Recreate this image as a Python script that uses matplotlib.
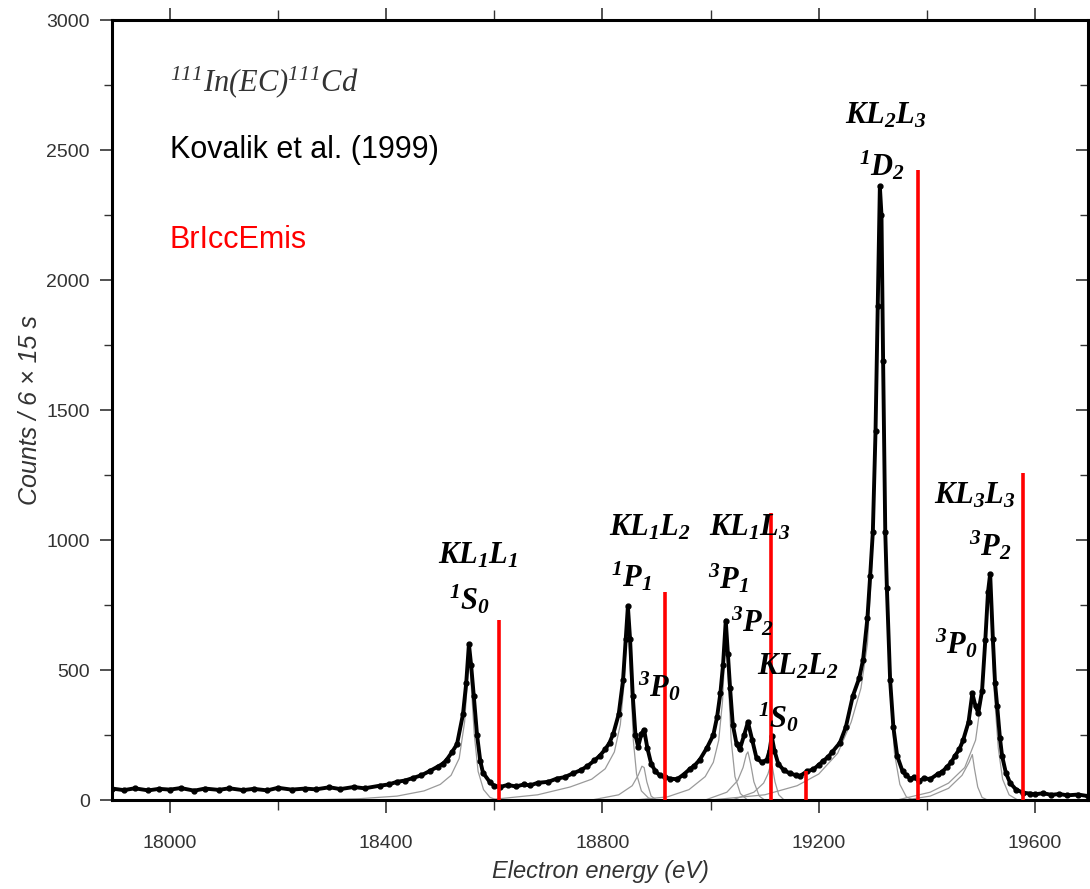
import matplotlib
matplotlib.use('Agg')
import matplotlib.pyplot as plt
from matplotlib.ticker import MultipleLocator

plt.rcParams['font.family'] = ['Liberation Sans', 'DejaVu Sans']
plt.rcParams['mathtext.fontset'] = 'custom'
plt.rcParams['mathtext.rm'] = 'Liberation Serif:italic'
plt.rcParams['mathtext.it'] = 'Liberation Serif:italic'
plt.rcParams['mathtext.bf'] = 'Liberation Serif:bold:italic'

spec_e = [17893, 17915, 17935, 17960, 17980, 18000, 18020, 18045, 18065, 18090,
          18110, 18135, 18155, 18180, 18200, 18225, 18250, 18270, 18295, 18315,
          18340, 18360, 18388, 18405, 18420, 18435, 18450, 18465, 18481, 18495,
          18505, 18512, 18522, 18531, 18542, 18548, 18553,
          18557, 18562, 18568, 18574, 18579, 18592, 18600, 18610, 18625, 18640, 18655, 18666, 18680, 18700,
          18715, 18730, 18745, 18760, 18772, 18785, 18795, 18805, 18813, 18820, 18830, 18838, 18843, 18847, 18851,
          18856, 18861, 18866, 18872, 18877, 18883, 18890, 18898, 18906, 18915, 18925, 18938, 18950, 18962,
          18970, 18980, 18993, 19005, 19012, 19018, 19023, 19028, 19032, 19036, 19041,
          19048, 19054, 19062, 19069, 19077, 19085, 19095, 19104, 19109, 19113,
          19118, 19125, 19135, 19147, 19157, 19165, 19178, 19190, 19200, 19208, 19217, 19225, 19239,
          19250, 19263, 19275, 19282, 19290, 19295, 19300, 19305, 19309, 19313,
          19316, 19319, 19323, 19326, 19332, 19338, 19345, 19355, 19362, 19369, 19377, 19385, 19395,
          19406, 19420, 19428, 19437, 19445, 19452, 19460, 19467, 19477, 19484, 19490, 19495, 19502,
          19508, 19513, 19517, 19522, 19526, 19530, 19535, 19539, 19546, 19554,
          19565, 19578, 19590, 19600, 19615, 19630, 19645, 19660, 19680, 19698]
spec_c = [44, 38, 45, 37, 43, 40, 46, 36, 44, 39,
          45, 38, 43, 37, 47, 40, 44, 41, 49, 42,
          50, 45, 55, 60, 70, 75, 85, 95, 112, 128,
          140, 155, 185, 215, 330, 450, 600,
          520, 400, 250, 150, 105, 68, 55, 50, 58, 52, 60, 56, 66, 70,
          82, 88, 102, 115, 130, 152, 170, 195, 220, 255, 330, 460, 620, 745, 620,
          400, 250, 205, 255, 270, 200, 140, 110, 95, 88, 82, 80, 98, 120,
          132, 155, 200, 250, 320, 410, 520, 690, 560, 430, 290,
          215, 195, 250, 300, 230, 160, 145, 155, 190, 245,
          190, 140, 115, 102, 96, 92, 110, 118, 135, 150, 165, 185, 220,
          280, 400, 470, 540, 700, 860, 1030, 1420, 1900, 2360,
          2250, 1690, 1030, 815, 460, 280, 170, 110, 95, 82, 88, 72, 84,
          80, 100, 108, 127, 145, 170, 195, 230, 300, 410, 360, 335, 420,
          615, 800, 870, 620, 450, 360, 240, 170, 105, 65,
          40, 28, 25, 22, 26, 20, 23, 18, 21, 15]

# fitted components (grey)
kl1l1_e = [18250, 18350, 18420, 18470, 18500, 18520, 18535, 18545, 18550, 18553, 18557, 18563, 18570, 18580, 18592, 18605]
kl1l1_c = [0, 5, 15, 35, 60, 95, 160, 300, 450, 585, 450, 250, 110, 40, 10, 0]
kl1l2_1p1_e = [18600, 18680, 18740, 18780, 18805, 18822, 18833, 18840, 18845, 18848, 18852, 18857, 18863, 18872, 18885, 18900]
kl1l2_1p1_c = [3, 20, 50, 80, 120, 185, 290, 450, 650, 690, 480, 230, 100, 35, 8, 0]
kl1l2_3p0_e = [18780, 18830, 18855, 18866, 18873, 18877, 18882, 18890, 18900]
kl1l2_3p0_c = [0, 20, 55, 95, 130, 125, 70, 15, 0]
kl1l3_3p1_e = [18860, 18920, 18960, 18990, 19005, 19015, 19022, 19026, 19029, 19033, 19038, 19045, 19055, 19068]
kl1l3_3p1_c = [0, 12, 40, 90, 145, 230, 380, 560, 660, 450, 230, 90, 25, 0]
kl1l3_3p2_e = [18990, 19030, 19050, 19060, 19066, 19069, 19074, 19080, 19090, 19100]
kl1l3_3p2_c = [0, 30, 75, 125, 175, 185, 140, 70, 15, 0]
kl2l2_e = [19040, 19080, 19098, 19106, 19111, 19114, 19119, 19126, 19136]
kl2l2_c = [0, 30, 65, 100, 135, 130, 70, 20, 0]
kl2l3_e = [19000, 19100, 19160, 19200, 19235, 19260, 19278, 19290, 19298, 19304, 19309, 19313, 19317, 19321, 19326, 19332, 19340, 19350, 19362, 19375]
kl2l3_c = [0, 20, 55, 100, 180, 300, 430, 600, 900, 1400, 1950, 2330, 2050, 1400, 820, 420, 180, 60, 12, 0]
kl3l3_3p0_e = [19360, 19406, 19440, 19465, 19478, 19484, 19488, 19494, 19502, 19512]
kl3l3_3p0_c = [0, 15, 45, 95, 145, 175, 120, 50, 10, 0]
kl3l3_3p2_e = [19345, 19406, 19440, 19470, 19490, 19500, 19508, 19513, 19516, 19520, 19525, 19532, 19540, 19552, 19568]
kl3l3_3p2_c = [0, 30, 65, 125, 230, 380, 600, 800, 840, 650, 400, 200, 80, 20, 0]

# BrIccEmis line positions and intensities
emis_e = [18609, 18916, 19112, 19176, 19384, 19578]
emis_c = [692, 800, 1104, 112, 2423, 1258]

# peak labels: text, x, y
label_txt = [r'$\mathbf{KL_1L_1}$', r'$\mathbf{{}^1S_0}$',
             r'$\mathbf{KL_1L_2}$', r'$\mathbf{{}^1P_1}$', r'$\mathbf{{}^3P_0}$',
             r'$\mathbf{KL_1L_3}$', r'$\mathbf{{}^3P_1}$', r'$\mathbf{{}^3P_2}$',
             r'$\mathbf{KL_2L_2}$', r'$\mathbf{{}^1S_0}$',
             r'$\mathbf{KL_2L_3}$', r'$\mathbf{{}^1D_2}$',
             r'$\mathbf{KL_3L_3}$', r'$\mathbf{{}^3P_2}$', r'$\mathbf{{}^3P_0}$']
label_x = [18570, 18555, 18888, 18853, 18906, 19073, 19034, 19077, 19162, 19125, 19324, 19317, 19489, 19517, 19454]
label_y = [942, 769, 1050, 858, 435, 1050, 852, 685, 512, 315, 2634, 2440, 1173, 980, 600]

fig = plt.figure(figsize=(10.9, 8.89), dpi=100)
ax = fig.add_axes([0.1028, 0.1001, 0.8954, 0.8774])

components = [(kl1l1_e, kl1l1_c), (kl1l2_1p1_e, kl1l2_1p1_c), (kl1l2_3p0_e, kl1l2_3p0_c),
              (kl1l3_3p1_e, kl1l3_3p1_c), (kl1l3_3p2_e, kl1l3_3p2_c), (kl2l2_e, kl2l2_c),
              (kl2l3_e, kl2l3_c), (kl3l3_3p0_e, kl3l3_3p0_c), (kl3l3_3p2_e, kl3l3_3p2_c)]
for e, c in components:
    ax.plot(e, c, color='#9a9a9a', lw=0.9, zorder=2)

ax.plot(spec_e, spec_c, color='black', lw=2.8, marker='o', ms=3.5, zorder=3)
ax.vlines(emis_e, 0, emis_c, color='#ff0000', lw=2.6, zorder=4)

for t, x, y in zip(label_txt, label_x, label_y):
    ax.text(x, y, t, fontsize=22, ha='center', va='center', color='black', zorder=5)

ax.text(18000, 2762, r'$^{111}$In(EC)$^{111}$Cd', fontsize=22, family='Liberation Serif',
        style='italic', color='#333333', va='center', ha='left')
ax.text(18000, 2500, 'Kovalik et al. (1999)', fontsize=22, color='black', va='center', ha='left')
ax.text(18000, 2154, 'BrIccEmis', fontsize=22, color='#ff0000', va='center', ha='left')

ax.set_xlim(17893, 19698)
ax.set_ylim(0, 3000)
ax.xaxis.set_major_locator(MultipleLocator(400))
ax.xaxis.set_minor_locator(MultipleLocator(200))
ax.yaxis.set_major_locator(MultipleLocator(500))
ax.yaxis.set_minor_locator(MultipleLocator(250))
ax.tick_params(axis='both', which='both', direction='out', colors='#333333', labelsize=14)
ax.tick_params(axis='x', which='major', length=9, width=1.2, pad=16, top=True)
ax.tick_params(axis='x', which='minor', length=7, width=1.0, top=True)
ax.tick_params(axis='y', which='major', length=9, width=1.2, pad=7)
ax.tick_params(axis='y', which='minor', length=6, width=1.0)
ax.tick_params(axis='y', which='both', right=True)
for tick in ax.yaxis.get_major_ticks() + ax.yaxis.get_minor_ticks():
    tick.tick2line.set_marker(0)  # inward ticks on the right side
for s in ax.spines.values():
    s.set_linewidth(2.2)

ax.set_xlabel('Electron energy (eV)', fontsize=17, style='italic', color='#333333')
ax.set_ylabel('Counts / 6 × 15 s', fontsize=18, style='italic', color='#333333')
ax.xaxis.set_label_coords(0.5, -0.077)
ax.yaxis.set_label_coords(-0.072, 0.5)

fig.savefig('out.png', dpi=100)
